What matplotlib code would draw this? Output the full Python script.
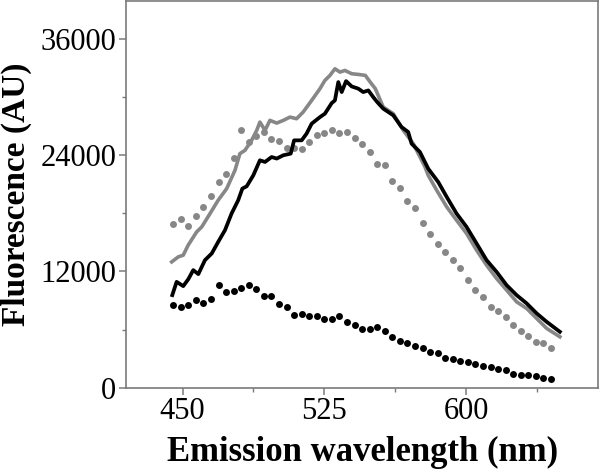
"""Emission spectra: fluorescence vs wavelength, two solid traces and two dotted traces."""

import matplotlib.pyplot as plt

plt.rcParams["font.family"] = ["Liberation Serif", "DejaVu Serif"]

# dotted series, sampled every 4 nm
dot_wl = [445, 449, 453, 457, 461, 465, 469, 473, 477, 481, 485, 489, 493,
          497, 501, 505, 509, 513, 517, 521, 525, 529, 533, 537, 541, 545,
          549, 553, 557, 561, 565, 569, 573, 577, 581, 585, 589, 593, 597,
          601, 605, 609, 613, 617, 621, 625, 629, 633, 637, 641, 645]
black_dots = [8520, 8315, 8520, 9000, 8760, 9170, 10580, 9890, 10000, 10240,
              10615, 10135, 9480, 9480, 8590, 8350, 7520, 7590, 7420, 7420,
              7040, 7040, 7390, 6800, 6490, 6080, 6080, 6220, 5810, 5260,
              4810, 4570, 4330, 4050, 3670, 3540, 3060, 2990, 2780, 2680,
              2440, 2270, 2160, 1960, 1820, 1440, 1300, 1270, 1200, 1000, 890]
gray_dots = [16860, 17410, 16690, 17720, 18650, 19780, 21220, 22050, 23700,
             26600, 25300, 26000, 26400, 25700, 25450, 24770, 24770, 24590,
             25350, 26110, 26270, 26620, 26270, 26380, 25800, 25180, 24320,
             23120, 22940, 21330, 20610, 19240, 18590, 17040, 15810, 14840,
             13980, 13160, 12330, 11100, 10070, 9380, 8280, 7930, 7250, 6460,
             5870, 5330, 4740, 4640, 4060]

# solid black trace
black_wl = [444.5, 446.8, 450.3, 453.0, 455.6, 458.3, 461.8, 465.4, 468.8,
            472.4, 475.9, 479.4, 481.6, 483.9, 487.4, 490.9, 493.6, 497.1,
            499.8, 503.3, 507.2, 509.0, 513.0, 515.6, 518.3, 522.7, 525.3,
            528.9, 530.6, 532.4, 534.2, 536.5, 539.5, 543.0, 545.6, 548.3,
            550.9, 553.0, 556.2, 561.5, 565.9, 569.4, 571.2, 575.6, 580.0,
            585.3, 589.8, 595.0, 600.3, 605.6, 610.9, 616.2, 621.5, 626.8,
            632.1, 637.4, 642.7, 649.7]
black_line = [9550, 10920, 10480, 11200, 12130, 11720, 13160, 13850, 15040,
              16250, 17970, 19340, 20540, 20780, 21910, 23460, 23290, 23800,
              23640, 23980, 24150, 25520, 25520, 26210, 27240, 27920, 28270,
              29360, 29640, 31530, 30500, 31630, 31080, 30850, 30500, 30670,
              29980, 29470, 28790, 28100, 26890, 26380, 25180, 24320, 22600,
              21220, 19680, 17970, 16590, 14880, 13160, 11950, 10580, 9550,
              8700, 7670, 6800, 5770]

# solid gray trace
gray_wl = [444.2, 447.7, 450.3, 452.9, 457.4, 460.1, 464.5, 468.8, 473.3,
           477.7, 480.3, 483.0, 486.5, 489.2, 490.9, 493.6, 496.2, 499.8,
           503.3, 506.8, 510.3, 513.8, 518.3, 522.7, 525.3, 528.0, 530.6,
           533.3, 535.9, 539.5, 543.0, 546.7, 549.3, 552.0, 556.2, 561.5,
           566.8, 572.1, 578.3, 580.0, 584.5, 589.8, 595.0, 600.3, 605.6,
           610.9, 616.2, 621.5, 626.8, 632.1, 637.4, 642.7, 649.7]
gray_line = [12980, 13500, 13670, 14700, 16070, 16590, 17970, 19340, 20540,
             22430, 24150, 24490, 25520, 26550, 27400, 26550, 27580, 27300,
             27580, 27920, 27750, 28440, 29640, 30850, 31700, 32220, 32900,
             32560, 32730, 32390, 32320, 32220, 31530, 30850, 28950, 28270,
             26550, 25180, 22770, 21910, 20370, 18650, 17280, 15910, 14190,
             12640, 11270, 10070, 8860, 8180, 7150, 6120, 5250]

GRAY = "#878787"

fig = plt.figure(figsize=(6.0, 4.76), dpi=100)
ax = fig.add_axes([0.21, 0.1855, 0.787, 0.8125])

ax.plot(gray_wl, gray_line, color=GRAY, lw=2.6, zorder=3)
ax.plot(black_wl, black_line, color="black", lw=2.7, zorder=4)
ax.plot(dot_wl, gray_dots, "o", color=GRAY, ms=5, mew=0, zorder=2)
ax.plot(dot_wl, black_dots, "o", color="black", ms=5, mew=0, zorder=2)

ax.set_xlim(420, 670)
ax.set_ylim(0, 39900)
ax.set_xticks([450, 525, 600])
ax.set_xticks([487.5, 562.5, 637.5], minor=True)
ax.set_yticks([0, 12000, 24000, 36000])
ax.set_yticks([6000, 18000, 30000], minor=True)

for s in ax.spines.values():
    s.set_color("#7a7a7a")
    s.set_linewidth(1.2)
ax.tick_params(which="major", direction="out", length=5, width=1.1,
               color="#7a7a7a", labelsize=22, pad=2)
ax.tick_params(which="minor", direction="out", length=3, width=1.0,
               color="#7a7a7a")

ax.set_xlabel("Emission wavelength (nm)", fontsize=25, fontweight="bold",
              labelpad=7)
ax.set_ylabel("Fluorescence (AU)", fontsize=24, fontweight="bold",
              labelpad=6)

fig.savefig("out.png", dpi=100)
